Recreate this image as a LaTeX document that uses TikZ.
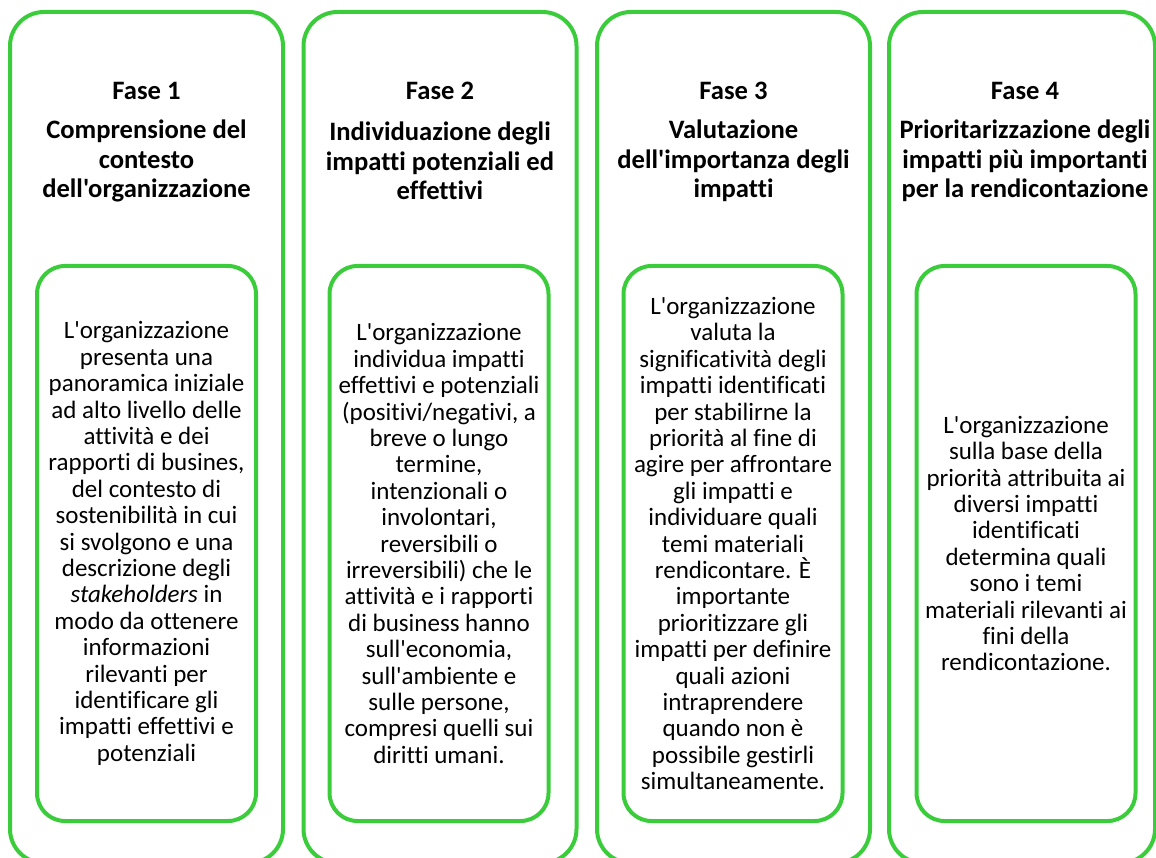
\documentclass[tikz,border=0pt]{standalone}
\usepackage{fontspec}
\setmainfont{Carlito}[Ligatures={TeXOff,CommonOff}]
\usepackage{tikz}
\usetikzlibrary{positioning}
\definecolor{fasegreen}{RGB}{58,204,58}

\begin{document}
\begin{tikzpicture}[x=1pt,y=-1pt,
		fasebox/.style={draw=fasegreen, line width=4pt, rounded corners=34pt, minimum width=273pt, minimum height=851pt},
		testobox/.style={draw=fasegreen, line width=4pt, rounded corners=28pt, minimum width=219pt, minimum height=555pt, align=center, inner sep=0pt, font=\fontsize{25}{26.4}\selectfont},
		fasename/.style={font=\bfseries\fontsize{26.6}{29}\selectfont, inner sep=0pt},
		fasetitle/.style={font=\bfseries\fontsize{26.6}{29.5}\selectfont, align=center, inner sep=0pt}]
		% Page
		\useasboundingbox (0,0) rectangle (1156,858);
		\clip (0,0) rectangle (1156,858);

		% Phases (outer boxes)
		\node[fasebox] (fase1) at (146.5,437.5) {};
		\node[fasebox] (fase2) at (440,437.5) {};
		\node[fasebox] (fase3) at (733.5,437.5) {};
		\node[fasebox, minimum width=266pt] (fase4) at (1022,437.5) {};

		% Titles
		\node[fasename] (nome1) at (146.5,91) {Fase 1};
		\node[fasetitle] (titolo1) at (146.5,161) {Comprensione del\\contesto\\dell'organizzazione};
		\node[fasename] (nome2) at (440,91) {Fase 2};
		\node[fasetitle] (titolo2) at (440,161) {Individuazione degli\\impatti potenziali ed\\effettivi};
		\node[fasename] (nome3) at (733.5,91) {Fase 3};
		\node[fasetitle] (titolo3) at (733.5,161) {Valutazione\\dell'importanza degli\\impatti};
		\node[fasename] (nome4) at (1025,91) {Fase 4};
		\node[fasetitle] (titolo4) at (1025,161) {Prioritarizzazione degli\\impatti più importanti\\per la rendicontazione};

		% Descriptions (inner boxes)
		\node[testobox] (testo1) at (146.5,543.5) {L'organizzazione\\presenta una\\panoramica iniziale\\ad alto livello delle\\attività e dei\\rapporti di busines,\\del contesto di\\sostenibilità in cui\\si svolgono e una\\descrizione degli\\\textit{stakeholders} in\\modo da ottenere\\informazioni\\rilevanti per\\identificare gli\\impatti effettivi e\\potenziali};
		\node[testobox] (testo2) at (439,543.5) {L'organizzazione\\individua impatti\\effettivi e potenziali\\(positivi/negativi, a\\breve o lungo\\termine,\\intenzionali o\\involontari,\\reversibili o\\irreversibili) che le\\attività e i rapporti\\di business hanno\\sull'economia,\\sull'ambiente e\\sulle persone,\\compresi quelli sui\\diritti umani.};
		\node[testobox] (testo3) at (733,543.5) {L'organizzazione\\valuta la\\significatività degli\\impatti identificati\\per stabilirne la\\priorità al fine di\\agire per affrontare\\gli impatti e\\individuare quali\\temi materiali\\rendicontare. È\\importante\\prioritizzare gli\\impatti per definire\\quali azioni\\intraprendere\\quando non è\\possibile gestirli\\simultaneamente.};
		\node[testobox] (testo4) at (1026,543.5) {L'organizzazione\\sulla base della\\priorità attribuita ai\\diversi impatti\\identificati\\determina quali\\sono i temi\\materiali rilevanti ai\\fini della\\rendicontazione.};
	\end{tikzpicture}
\end{document}
